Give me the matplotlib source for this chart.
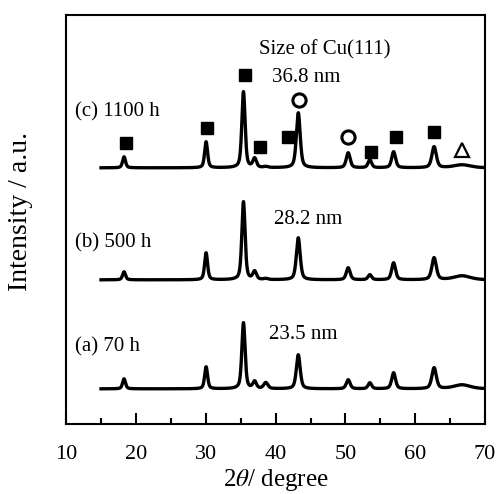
import numpy as np
import matplotlib.pyplot as plt

plt.rcParams['font.family'] = ['Liberation Serif', 'DejaVu Serif']
plt.rcParams['mathtext.fontset'] = 'stix'

# peak positions (2theta, deg) shared by all three patterns
peak_pos = [18.3, 30.05, 35.4, 37.0, 38.6, 43.25, 50.4, 53.5, 56.9, 62.7, 66.7]
peak_fwhm = [0.5, 0.5, 0.55, 0.6, 0.7, 0.65, 0.65, 0.6, 0.65, 0.75, 2.8]

# peak heights (same units as axis, ~pixels)
heights_a = [10, 22, 66, 7, 6, 34, 9, 6, 16, 21, 4]
heights_b = [8, 27, 78, 8, 1, 42, 12, 5, 17, 22, 4]
heights_c = [11, 26, 76, 9, 1, 55, 15, 8, 16, 21, 3]

offsets = [35, 144, 256]
labels = ['(a) 70 h', '(b) 500 h', '(c) 1100 h']
label_y = [77, 181, 312]
sizes = ['23.5 nm', '28.2 nm', '36.8 nm']
size_xy = [(43.9, 89), (44.7, 204), (44.4, 346)]

# phase markers on pattern (c)
sq_x = [18.6, 30.2, 35.6, 37.7, 41.8, 53.6, 57.3, 62.7]
sq_y = [281, 296, 349, 277, 287, 272, 287, 292]
circ_x = [43.4, 50.4]
circ_y = [324, 287]
tri_x = [66.7]
tri_y = [274]


def pattern(x, pos, fw, h):
    y = np.zeros_like(x)
    for p, w, a in zip(pos, fw, h):
        g = np.exp(-4 * np.log(2) * ((x - p) / w) ** 2)
        l = 1.0 / (1 + 4 * ((x - p) / w) ** 2)
        y += a * (0.5 * g + 0.5 * l)
    return y


x = np.arange(15, 70.001, 0.02)

fig = plt.figure(figsize=(4.97, 4.94), dpi=100)
ax = fig.add_axes([0.133, 0.142, 0.843, 0.828])

for h, off in zip([heights_a, heights_b, heights_c], offsets):
    ax.plot(x, off + pattern(x, peak_pos, peak_fwhm, h), color='black', lw=2.4)

for lab, ly in zip(labels, label_y):
    ax.text(11.3, ly, lab, fontsize=15, va='center', ha='left')
for s, (sx, sy) in zip(sizes, size_xy):
    ax.text(sx, sy, s, fontsize=15, va='center', ha='center')
ax.text(47.1, 374, 'Size of Cu(111)', fontsize=15, va='center', ha='center')

ax.plot(sq_x, sq_y, 's', color='black', ms=8, ls='none')
ax.plot(circ_x, circ_y, 'o', mfc='white', mec='black', mew=2.2, ms=9.5, ls='none')
ax.plot(tri_x, tri_y, '^', mfc='white', mec='black', mew=1.6, ms=10, ls='none')

ax.set_xlim(10, 70)
ax.set_ylim(0, 409)
ax.set_xticks(range(10, 71, 10))
ax.set_xticks(range(15, 70, 10), minor=True)
ax.tick_params(axis='x', which='major', direction='in', length=8, width=1.5,
               labelsize=16, pad=15)
ax.tick_params(axis='x', which='minor', direction='in', length=4, width=1.5)
ax.set_yticks([])
for sp in ax.spines.values():
    sp.set_linewidth(1.5)

ax.set_xlabel(r'2$\theta$/ degree', fontsize=18)
ax.xaxis.set_label_coords(0.5, -0.105)
ax.set_ylabel('Intensity / a.u.', fontsize=20)
ax.yaxis.set_label_coords(-0.08, 0.52)

fig.savefig('out.png', dpi=100)
